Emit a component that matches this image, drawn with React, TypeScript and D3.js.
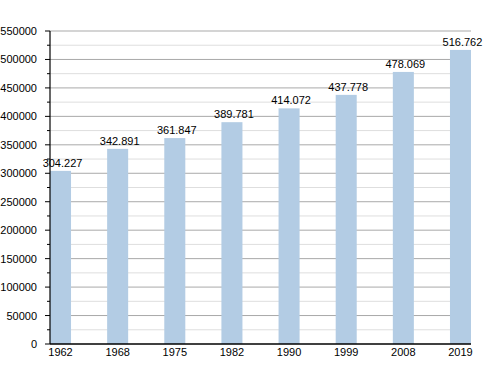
import React from 'react'
import * as d3 from 'd3'

const years = ['1962', '1968', '1975', '1982', '1990', '1999', '2008', '2019']
const population = [304227, 342891, 361847, 389781, 414072, 437778, 478069, 516762]
const yMax = 550000

const width = 500
const height = 373
const margin = { top: 31, right: 29, bottom: 29, left: 50 }

const fmt = (v: number) => d3.format(',')(v).replace(/,/g, '.')

export default function App() {
  const x = d3.scaleBand<string>()
    .domain(years)
    .range([margin.left, width - margin.right])
    .paddingInner(0.632)
    .paddingOuter(0)

  const y = d3.scaleLinear()
    .domain([0, yMax])
    .range([height - margin.bottom, margin.top])

  const minor = d3.range(25000, yMax, 50000)
  const major = d3.range(0, yMax + 1, 50000)
  const x0 = margin.left
  const x1 = width - margin.right

  return (
    <svg width={width} height={height}
      style={{ position: 'absolute', left: 0, top: 0, fontFamily: 'Liberation Sans, Arial, sans-serif' }}>
      <rect width={width} height={height} fill="white" />
      {/* grid */}
      {minor.map(v => (
        <g key={'mi' + v}>
          <line x1={x0} x2={x1} y1={y(v)} y2={y(v)} stroke="#dedede" />
          <line x1={x0 - 3} x2={x0} y1={y(v)} y2={y(v)} stroke="#000" />
        </g>
      ))}
      {major.map(v => (
        <g key={'ma' + v}>
          {v > 0 && <line x1={x0} x2={x1} y1={y(v)} y2={y(v)} stroke="#a9a9a9" />}
          <line x1={x0 - 5} x2={x0} y1={y(v)} y2={y(v)} stroke="#000" />
          <text x={x0 - 13} y={y(v) + 4} textAnchor="end" fontSize={11} fill="#000">{v}</text>
        </g>
      ))}
      {/* bars */}
      {years.map((yr, i) => (
        <g key={yr}>
          <rect x={x(yr)} y={y(population[i])} width={x.bandwidth()}
            height={y(0) - y(population[i])} fill="#b3cce4" />
          <text x={x(yr)! + x.bandwidth() / 2 + 2} y={y(population[i]) - 4}
            textAnchor="middle" fontSize={11} fill="#000">{fmt(population[i])}</text>
          <text x={x(yr)! + x.bandwidth() / 2} y={y(0) + 12}
            textAnchor="middle" fontSize={11} fill="#000">{yr}</text>
        </g>
      ))}
      {/* axes */}
      <line x1={x0} x2={x0} y1={y(yMax)} y2={y(0)} stroke="#000" strokeWidth={1.2} />
      <line x1={x0} x2={x1} y1={y(0)} y2={y(0)} stroke="#000" strokeWidth={1.5} />
    </svg>
  )
}
